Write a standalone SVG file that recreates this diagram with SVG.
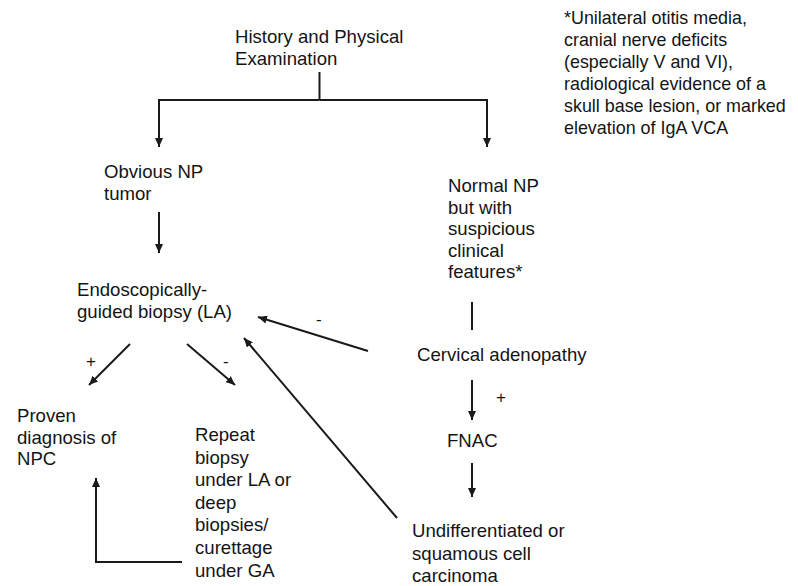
<svg xmlns="http://www.w3.org/2000/svg" width="798" height="586" viewBox="0 0 798 586">
<defs>
<style>
text{font-family:"Liberation Sans",Arial,Helvetica,sans-serif;font-size:18.6px;fill:#141414;}
.note{font-size:17.9px;}
.lbl{font-size:17px;}
.c{fill:none;stroke:#1a1a1a;stroke-width:2;}
.a{marker-end:url(#ah);}
</style>
<marker id="ah" markerUnits="userSpaceOnUse" markerWidth="10" markerHeight="8" refX="9" refY="4" orient="auto">
<path d="M0,0 L9,4 L0,8 z" fill="#1a1a1a"/>
</marker>
</defs>
<rect width="798" height="586" fill="#fff"/>
<g id="connectors">
<path class="c" d="M319.5,72 V100"/>
<path class="c a" d="M319.5,100 H159 V147"/>
<path class="c a" d="M319.5,100 H487 V147"/>
<path class="c a" d="M159,212 V253"/>
<path class="c a" d="M130,344 L89,385"/>
<path class="c a" d="M187,344 L235,385"/>
<path class="c a" d="M182,562 H96 V478"/>
<path class="c" d="M472,302 V330"/>
<path class="c a" d="M472,380 V420"/>
<path class="c a" d="M472,463 V497"/>
<path class="c a" d="M368,351 L258,317"/>
<path class="c a" d="M397,518 L244,338"/>
<text class="lbl" x="496" y="403">+</text>
<text class="lbl" x="316" y="325">-</text>
<text class="lbl" x="86" y="367">+</text>
<text class="lbl" x="223" y="367">-</text>
</g>
<g id="history"><text x="235" y="43"><tspan x="235">History and Physical</tspan><tspan x="235" dy="22">Examination</tspan></text></g>
<g id="note"><text class="note" x="564" y="24"><tspan x="564">*Unilateral otitis media,</tspan><tspan x="564" dy="22">cranial nerve deficits</tspan><tspan x="564" dy="22">(especially V and VI),</tspan><tspan x="564" dy="22">radiological evidence of a</tspan><tspan x="564" dy="22">skull base lesion, or marked</tspan><tspan x="564" dy="22">elevation of IgA VCA</tspan></text></g>
<g id="obvious"><text x="104" y="178"><tspan x="104">Obvious NP</tspan><tspan x="104" dy="22">tumor</tspan></text></g>
<g id="normal"><text x="448" y="192"><tspan x="448">Normal NP</tspan><tspan x="448" dy="21.6">but with</tspan><tspan x="448" dy="21.6">suspicious</tspan><tspan x="448" dy="21.6">clinical</tspan><tspan x="448" dy="21.6">features*</tspan></text></g>
<g id="endoscopic"><text x="77" y="296"><tspan x="77">Endoscopically-</tspan><tspan x="77" dy="22">guided biopsy (LA)</tspan></text></g>
<g id="cervical"><text x="417" y="361">Cervical adenopathy</text></g>
<g id="fnac"><text x="447" y="447">FNAC</text></g>
<g id="proven"><text x="17" y="422"><tspan x="17">Proven</tspan><tspan x="17" dy="21.7">diagnosis of</tspan><tspan x="17" dy="21.7">NPC</tspan></text></g>
<g id="repeat"><text x="195" y="441"><tspan x="195">Repeat</tspan><tspan x="195" dy="22.6">biopsy</tspan><tspan x="195" dy="22.6">under LA or</tspan><tspan x="195" dy="22.6">deep</tspan><tspan x="195" dy="22.6">biopsies/</tspan><tspan x="195" dy="22.6">curettage</tspan><tspan x="195" dy="22.6">under GA</tspan></text></g>
<g id="undiff"><text x="412" y="537"><tspan x="412">Undifferentiated or</tspan><tspan x="412" dy="22.5">squamous cell</tspan><tspan x="412" dy="22.5">carcinoma</tspan></text></g>
</svg>
